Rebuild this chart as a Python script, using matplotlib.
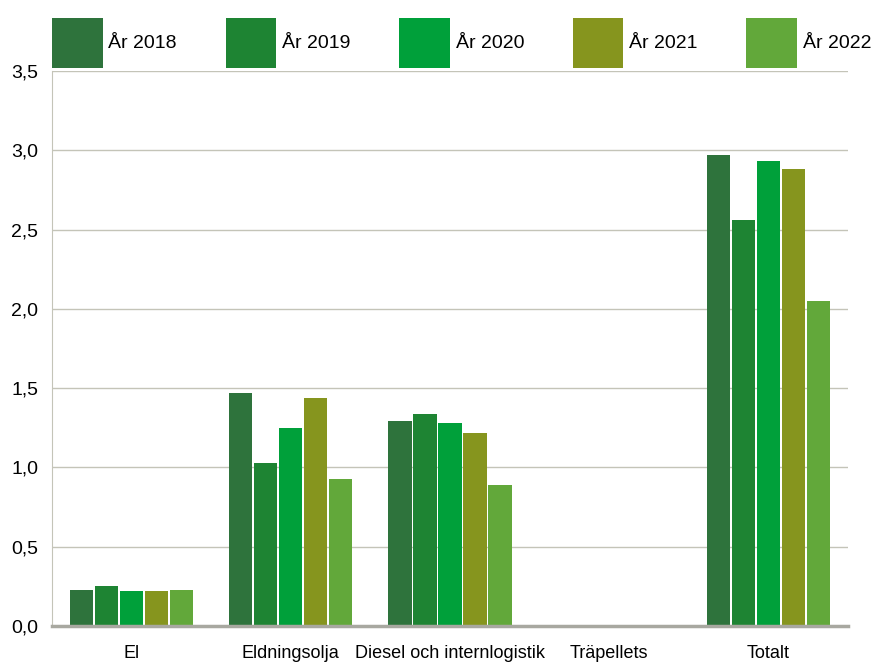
import matplotlib
matplotlib.use("Agg")
from matplotlib import pyplot as plt
from matplotlib.ticker import FuncFormatter
import numpy as np

plt.rcParams['font.family'] = ['Liberation Sans', 'DejaVu Sans']

categories = ['El', 'Eldningsolja', 'Diesel och internlogistik', 'Träpellets', 'Totalt']
years = ['År 2018', 'År 2019', 'År 2020', 'År 2021', 'År 2022']
colors = ['#2E733C', '#1E8433', '#00A03A', '#86951E', '#62A83A']

v2018 = [0.227, 1.47, 1.29, 0.005, 2.97]
v2019 = [0.252, 1.03, 1.34, 0.005, 2.56]
v2020 = [0.22, 1.25, 1.28, 0.005, 2.93]
v2021 = [0.22, 1.44, 1.22, 0.005, 2.88]
v2022 = [0.227, 0.93, 0.89, 0.005, 2.05]
series = [v2018, v2019, v2020, v2021, v2022]

fig = plt.figure(figsize=(8.81, 6.66), dpi=100)
ax = fig.add_axes([0.059, 0.06, 0.9035, 0.8334])

x = np.arange(len(categories))
slot = 0.157
for i, vals in enumerate(series):
    ax.bar(x + (i - 2) * slot, vals, width=0.145, color=colors[i], label=years[i], zorder=3)

ax.set_xlim(-0.5, len(categories) - 0.5)
ax.set_ylim(0, 3.5)
ax.set_yticks(np.arange(0, 3.51, 0.5))
ax.yaxis.set_major_formatter(FuncFormatter(lambda v, p: f'{v:.1f}'.replace('.', ',')))
ax.grid(axis='y', color='#c4c4b8', linewidth=1, zorder=0)
ax.set_xticks(x)
ax.set_xticklabels(categories, fontsize=13)
ax.tick_params(axis='y', labelsize=14, length=0, pad=10)
ax.tick_params(axis='x', length=0, pad=14)
for s in ['top', 'right']:
    ax.spines[s].set_visible(False)
ax.spines['left'].set_color('#c4c4b8')
ax.spines['bottom'].set_color('#a8a8a0')
ax.spines['bottom'].set_linewidth(2.5)
ax.spines['bottom'].set_zorder(4)

fig.legend(loc='lower left', bbox_to_anchor=(0.059, 0.898, 0.93, 0.08), mode='expand',
           ncol=5, frameon=False, fontsize=14, handlelength=2.6, handleheight=3.6,
           handletextpad=0.3, borderaxespad=0, borderpad=0)

fig.savefig('out.png', dpi=100)
